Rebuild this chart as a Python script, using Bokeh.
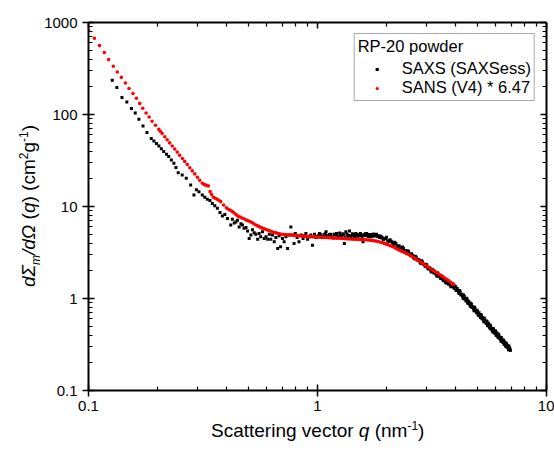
from bokeh.plotting import figure
from bokeh.layouts import row, column
from bokeh.models import (LogAxis, FixedTicker, Legend, LegendItem, Div,
                          CustomJSTickFormatter, Range1d)
from bokeh.embed import file_html
from bokeh.resources import INLINE

FONT = "Liberation Sans"

# ---------------- data: SANS (V4) * 6.47 ----------------
sans_q_1 = [0.1000, 0.1062, 0.1117, 0.1172, 0.1224, 0.1283, 0.1336, 0.1391, 0.1449, 0.1503,
            0.1564, 0.1619, 0.1674, 0.1725, 0.1784, 0.1839, 0.1895, 0.1961, 0.2028, 0.2063,
            0.2097, 0.2154]
sans_i_1 = [818, 674, 561, 471, 395, 334, 290, 253, 220, 192,
            169, 150, 132, 117, 104, 93.8, 84.4, 76.4, 68.9, 65.3,
            62.1, 57.2]
sans_q_2 = [0.2205, 0.226, 0.232, 0.238, 0.244, 0.250, 0.257, 0.263, 0.270, 0.277,
            0.284, 0.291, 0.299, 0.306, 0.314, 0.320, 0.325, 0.330, 0.334, 0.3395,
            0.345, 0.351, 0.358, 0.365, 0.371, 0.378, 0.389]
sans_i_2 = [53.2, 49.2, 45.5, 42.1, 39.0, 36.0, 33.2, 30.9, 28.6, 26.4,
            24.4, 22.6, 20.8, 19.3, 17.9, 17.3, 17.1, 16.9, 16.7, 14.5,
            13.5, 12.6, 12.3, 12.0, 11.6, 11.3, 10.4]
sans_q_3 = [0.400, 0.408, 0.416, 0.425, 0.433, 0.441, 0.450, 0.459, 0.468, 0.477,
            0.487, 0.497, 0.507, 0.517, 0.527, 0.538, 0.548, 0.559, 0.570, 0.582,
            0.593, 0.605, 0.617, 0.630, 0.642, 0.655, 0.668, 0.682, 0.695, 0.709,
            0.723, 0.738, 0.753, 0.768, 0.783, 0.799, 0.815, 0.831, 0.848, 0.865,
            0.882, 0.900, 0.918, 0.936, 0.955, 0.974, 0.993]
sans_i_3 = [9.7, 9.35, 9.1, 8.8, 8.5, 8.15, 7.85, 7.7, 7.5, 7.35,
            7.15, 7.0, 6.85, 6.7, 6.5, 6.3, 6.15, 6.0, 5.85, 5.75,
            5.65, 5.55, 5.45, 5.35, 5.25, 5.2, 5.12, 5.05, 5.0, 4.97,
            4.95, 4.93, 4.91, 4.9, 4.88, 4.85, 4.83, 4.8, 4.78, 4.76,
            4.74, 4.72, 4.70, 4.69, 4.68, 4.67, 4.66]
sans_q_4 = [1.013, 1.033, 1.054, 1.075, 1.096, 1.118, 1.141, 1.163, 1.187, 1.210,
            1.235, 1.259, 1.284, 1.310, 1.336, 1.363, 1.390, 1.418, 1.446, 1.475,
            1.505, 1.535, 1.566, 1.597, 1.629, 1.661, 1.695, 1.728, 1.763, 1.798,
            1.834, 1.871, 1.909, 1.947, 1.986, 2.025, 2.066, 2.107, 2.149, 2.192,
            2.236, 2.281, 2.326, 2.373, 2.420, 2.468, 2.518, 2.568, 2.620, 2.672,
            2.725, 2.780, 2.836, 2.892, 2.950, 3.009, 3.069, 3.131, 3.193, 3.257,
            3.322, 3.389, 3.457, 3.526, 3.596, 3.668, 3.741, 3.816, 3.892, 3.930]
sans_i_4 = [4.65, 4.64, 4.63, 4.62, 4.61, 4.59, 4.58, 4.56, 4.55, 4.53,
            4.52, 4.51, 4.50, 4.48, 4.47, 4.45, 4.44, 4.42, 4.41, 4.40,
            4.39, 4.38, 4.37, 4.36, 4.35, 4.33, 4.30, 4.28, 4.25, 4.22,
            4.17, 4.12, 4.06, 3.99, 3.92, 3.85, 3.78, 3.71, 3.63, 3.52,
            3.44, 3.35, 3.27, 3.20, 3.13, 3.05, 2.98, 2.89, 2.81, 2.71,
            2.62, 2.55, 2.47, 2.39, 2.31, 2.24, 2.17, 2.10, 2.03, 1.97,
            1.91, 1.85, 1.79, 1.73, 1.67, 1.62, 1.56, 1.50, 1.45, 1.43]

# ---------------- data: SAXS (SAXSess) ----------------
saxs_q_1 = [0.127, 0.133, 0.140, 0.147, 0.154, 0.160, 0.166, 0.173, 0.180, 0.188,
            0.193, 0.198, 0.203, 0.208, 0.213, 0.219, 0.224, 0.230, 0.236, 0.241,
            0.2465, 0.2566, 0.2673, 0.2793, 0.2887, 0.296, 0.3037, 0.314, 0.322, 0.3303,
            0.339, 0.3474, 0.356, 0.3654, 0.375, 0.3843, 0.394, 0.4043]
saxs_i_1 = [235, 196, 153, 137, 116, 104, 89, 75, 63.8, 55,
            51.5, 48.5, 45.5, 42.5, 39.5, 37.0, 34.9, 32.0, 29.6, 26.5,
            23.3, 22.0, 20.3, 17.1, 13.3, 15.2, 14.5, 13.3, 12.6, 12.0,
            11.6, 10.8, 10.2, 9.55, 8.6, 7.9, 8.2, 7.4]
saxs_q_2 = [0.418, 0.425, 0.433, 0.44, 0.447, 0.455, 0.463, 0.470, 0.478, 0.487,
            0.495, 0.503, 0.512, 0.520, 0.529, 0.538, 0.548, 0.556, 0.565, 0.575,
            0.585, 0.596, 0.606, 0.616, 0.625, 0.636, 0.647, 0.658, 0.67, 0.68,
            0.69, 0.703, 0.715, 0.728, 0.74, 0.752, 0.765, 0.78, 0.79, 0.80,
            0.815, 0.83, 0.85, 0.865, 0.88, 0.89, 0.905, 0.92, 0.935, 0.95,
            0.97, 0.985]
saxs_i_2 = [6.3, 7.25, 6.6, 6.8, 7.1, 6.0, 6.5, 6.3, 5.8, 5.9,
            5.4, 4.5, 4.9, 5.6, 5.2, 5.0, 4.4, 5.1, 4.7, 5.3,
            4.5, 4.69, 4.4, 5.0, 4.4, 4.9, 4.13, 4.6, 3.5, 4.8,
            3.65, 4.5, 4.13, 4.7, 3.5, 4.9, 6.0, 4.89, 3.97, 5.1,
            4.6, 4.13, 4.89, 4.5, 4.8, 5.1, 4.4, 4.69, 4.9, 3.80,
            5.0, 4.6]
saxs_q_3 = [1.00, 1.02, 1.05, 1.07, 1.09, 1.12, 1.14, 1.17, 1.19, 1.21,
            1.24, 1.26, 1.29, 1.31, 1.33, 1.36, 1.38, 1.41, 1.43, 1.45,
            1.47, 1.50, 1.53, 1.55, 1.58, 1.60, 1.62, 1.64, 1.67, 1.69,
            1.71, 1.74, 1.76, 1.79, 1.81, 1.84, 1.87, 1.89, 1.91, 1.94,
            1.97]
saxs_i_3 = [4.7, 5.1, 4.6, 4.9, 5.3, 4.75, 5.0, 4.55, 4.95, 5.1,
            4.7, 4.85, 5.05, 3.97, 5.3, 4.7, 5.4, 4.8, 4.9, 4.6,
            5.1, 4.75, 5.0, 4.85, 4.15, 4.9, 5.05, 5.1, 4.7, 4.95,
            4.9, 4.75, 5.0, 4.8, 5.0, 4.7, 4.6, 4.75, 4.55, 4.35,
            4.5]
saxs_q_3b = [1.01, 1.035, 1.06, 1.08, 1.105, 1.13, 1.155, 1.18, 1.20, 1.225,
             1.25, 1.275, 1.30, 1.32, 1.345, 1.37, 1.395, 1.42, 1.44, 1.46,
             1.485, 1.515, 1.54, 1.565, 1.59, 1.61, 1.63, 1.655, 1.68, 1.70,
             1.725, 1.75, 1.775, 1.80, 1.825, 1.855, 1.88, 1.90, 1.925, 1.955,
             1.985]
saxs_i_3b = [4.85, 4.95, 4.7, 5.05, 4.8, 4.95, 4.65, 5.0, 4.9, 4.75,
             5.15, 4.8, 4.95, 4.6, 5.0, 4.85, 4.7, 5.05, 4.9, 4.75,
             4.95, 4.8, 5.1, 4.7, 4.9, 5.0, 4.8, 4.95, 4.85, 4.7,
             4.9, 5.0, 4.8, 4.85, 4.75, 4.8, 4.7, 4.65, 4.55, 4.5,
             4.45]
saxs_q_4 = [2.000, 2.025, 2.050, 2.075, 2.100, 2.125, 2.150, 2.175, 2.200, 2.225,
            2.250, 2.275, 2.300, 2.325, 2.350, 2.375, 2.400, 2.425, 2.450, 2.475,
            2.500, 2.525, 2.550, 2.575, 2.600, 2.625, 2.650, 2.675, 2.700, 2.725,
            2.750, 2.775, 2.800, 2.825, 2.850, 2.875, 2.900, 2.925, 2.950, 2.975,
            3.000, 3.025, 3.050, 3.075, 3.100, 3.125, 3.150, 3.175, 3.200, 3.225,
            3.250, 3.275, 3.300, 3.325, 3.350, 3.375, 3.400, 3.425, 3.450, 3.475,
            3.500, 3.525, 3.550, 3.575, 3.600, 3.625, 3.650, 3.675, 3.700, 3.725,
            3.750, 3.775, 3.800, 3.825, 3.850, 3.875, 3.900, 3.925, 3.950, 3.975,
            4.000]
saxs_i_4 = [4.63, 4.24, 4.17, 4.35, 4.19, 4.03, 3.84, 4.08, 3.97, 3.67,
            3.72, 3.73, 3.53, 3.39, 3.64, 3.51, 3.32, 3.29, 3.13, 3.30,
            3.24, 3.01, 2.93, 3.06, 2.95, 2.78, 2.71, 2.88, 2.80, 2.62,
            2.63, 2.63, 2.49, 2.40, 2.58, 2.49, 2.36, 2.34, 2.23, 2.35,
            2.31, 2.14, 2.09, 2.17, 2.10, 1.99, 1.94, 2.07, 2.02, 1.89,
            1.90, 1.91, 1.81, 1.75, 1.89, 1.82, 1.73, 1.72, 1.65, 1.75,
            1.73, 1.60, 1.56, 1.64, 1.59, 1.50, 1.47, 1.57, 1.53, 1.44,
            1.45, 1.46, 1.39, 1.34, 1.46, 1.41, 1.35, 1.34, 1.29, 1.36,
            1.35]
saxs_q_5 = [4.05, 4.10, 4.15, 4.20, 4.25, 4.30, 4.35, 4.40, 4.45, 4.50,
            4.55, 4.60, 4.65, 4.70, 4.75, 4.80, 4.85, 4.90, 4.95, 5.00,
            5.05, 5.10, 5.15, 5.20, 5.25, 5.30, 5.35, 5.40, 5.45, 5.50,
            5.55, 5.60, 5.65, 5.70, 5.75, 5.80, 5.85, 5.90, 5.95, 6.00,
            6.05, 6.10, 6.15, 6.20, 6.25, 6.30, 6.35, 6.40, 6.45, 6.50,
            6.55, 6.60, 6.65, 6.70, 6.75, 6.80, 6.85, 6.90, 6.95]
saxs_i_5 = [1.22, 1.23, 1.13, 1.17, 1.105, 1.05, 1.09, 0.99, 0.94, 0.983,
            0.888, 0.894, 0.826, 0.860, 0.81, 0.771, 0.803, 0.735, 0.698, 0.728,
            0.663, 0.672, 0.621, 0.649, 0.613, 0.585, 0.609, 0.559, 0.534, 0.558,
            0.507, 0.515, 0.477, 0.50, 0.472, 0.451, 0.473, 0.436, 0.417, 0.437,
            0.399, 0.406, 0.377, 0.397, 0.376, 0.36, 0.376, 0.347, 0.332, 0.348,
            0.317, 0.323, 0.301, 0.316, 0.301, 0.289, 0.305, 0.282, 0.272]
saxs_q_6 = [4.025, 4.075, 4.125, 4.175, 4.225, 4.275, 4.325, 4.375, 4.425, 4.475,
            4.525, 4.575, 4.625, 4.675, 4.725, 4.775, 4.825, 4.875, 4.925, 4.975,
            5.025, 5.075, 5.125, 5.175, 5.225, 5.275, 5.325, 5.375, 5.425, 5.475,
            5.525, 5.575, 5.625, 5.675, 5.725, 5.775, 5.825, 5.875, 5.925, 5.975,
            6.025, 6.075, 6.125, 6.175, 6.225, 6.275, 6.325, 6.375, 6.425, 6.475,
            6.525, 6.575, 6.625, 6.675, 6.725, 6.775, 6.825, 6.875, 6.925]
saxs_i_6 = [1.23, 1.29, 1.18, 1.22, 1.09, 1.11, 1.00, 1.05, 0.985, 1.005,
            0.893, 0.936, 0.855, 0.889, 0.797, 0.814, 0.737, 0.776, 0.731, 0.746,
            0.663, 0.701, 0.643, 0.670, 0.602, 0.617, 0.559, 0.589, 0.558, 0.571,
            0.509, 0.537, 0.493, 0.516, 0.464, 0.475, 0.432, 0.458, 0.435, 0.446,
            0.398, 0.422, 0.389, 0.408, 0.369, 0.378, 0.344, 0.365, 0.346, 0.355,
            0.318, 0.336, 0.311, 0.326, 0.295, 0.304, 0.277, 0.296, 0.282]

sans_q = sans_q_1 + sans_q_2 + sans_q_3 + sans_q_4
sans_i = sans_i_1 + sans_i_2 + sans_i_3 + sans_i_4
saxs_q = saxs_q_1 + saxs_q_2 + saxs_q_3 + saxs_q_3b + saxs_q_4 + saxs_q_5 + saxs_q_6
saxs_i = saxs_i_1 + saxs_i_2 + saxs_i_3 + saxs_i_3b + saxs_i_4 + saxs_i_5 + saxs_i_6

x_major = [0.1, 1, 10]
y_major = [0.1, 1, 10, 100, 1000]
legend_title = "RP-20 powder"
saxs_label = "SAXS (SAXSess)"
sans_label = "SANS (V4) * 6.47"


def minors(majors):
    out = []
    for m in majors[:-1]:
        out += [m * k for k in range(2, 10)]
    return out


x_ticker = FixedTicker(ticks=x_major, minor_ticks=minors(x_major))
y_ticker = FixedTicker(ticks=y_major, minor_ticks=minors(y_major))

# ---------------- figure ----------------
p = figure(width=514, height=420, x_axis_type="log", y_axis_type="log",
           x_range=Range1d(0.1, 10), y_range=Range1d(0.1, 1000),
           output_backend="svg", toolbar_location=None,
           min_border_left=48, min_border_right=8, min_border_top=22, min_border_bottom=30,
           background_fill_color="white", border_fill_color="white")
p.grid.visible = False
p.outline_line_color = None

fmt = CustomJSTickFormatter(code="return String(Number(tick.toPrecision(6)));")
p.xaxis[0].ticker = x_ticker
p.yaxis[0].ticker = y_ticker
for ax in (p.xaxis[0], p.yaxis[0]):
    ax.formatter = fmt
    ax.axis_line_width = 2
    ax.axis_line_color = "black"
    ax.major_tick_line_width = 1.5
    ax.minor_tick_line_width = 1.2
    ax.major_tick_in = 6
    ax.major_tick_out = 6
    ax.minor_tick_in = 4
    ax.minor_tick_out = 0
    ax.major_label_text_font = FONT
    ax.major_label_text_font_size = "15px"
    ax.major_label_text_color = "black"
p.yaxis[0].major_label_standoff = 5
p.xaxis[0].major_label_standoff = 4

for loc, tk in (("above", x_ticker), ("right", y_ticker)):
    ax = LogAxis(ticker=tk,
                 formatter=CustomJSTickFormatter(code="return '';"),
                 axis_line_width=2, axis_line_color="black",
                 major_tick_line_width=1.5, minor_tick_line_width=1.2,
                 major_tick_in=6, major_tick_out=0, minor_tick_in=4, minor_tick_out=0,
                 major_label_text_font_size="1px", major_label_standoff=0)
    p.add_layout(ax, loc)

r_saxs = p.scatter(saxs_q, saxs_i, marker="square", size=3,
                   fill_color="black", line_color=None)
r_sans = p.scatter(sans_q, sans_i, marker="circle", size=3.6,
                   fill_color="#ff0000", line_color=None)

legend = Legend(items=[LegendItem(label=saxs_label, renderers=[r_saxs]),
                       LegendItem(label=sans_label, renderers=[r_sans])],
                title=legend_title, location="top_right",
                title_text_font=FONT, title_text_font_size="16.5px",
                title_text_font_style="normal", title_text_color="black",
                title_standoff=3,
                label_text_font=FONT, label_text_font_size="16.5px",
                label_text_color="black",
                border_line_color="#555555", border_line_width=1,
                background_fill_color="white", background_fill_alpha=1,
                padding=3, margin=11, spacing=0,
                glyph_width=38, glyph_height=8, label_height=18,
                label_standoff=6)
p.add_layout(legend)

# ---------------- axis titles (rich text: italics, sub/superscripts) ----------------
BASE = ("font-family:'Liberation Sans',Arial,sans-serif;font-size:19px;"
        "line-height:19px;white-space:nowrap;color:#000;")
SMALL = "font-size:12px;line-height:0;"

x_title_html = (f"<div style=\"{BASE}padding-left:211px;padding-top:1px;\">"
                f"Scattering vector <i>q</i> (nm<sup style=\"{SMALL}\">-1</sup>)</div>")
y_title_html = (f"<div style=\"{BASE}width:max-content;transform-origin:0 0;"
                f"transform:translate(19px,287px) rotate(-90deg);\">"
                f"<i>d\u03a3<sub style=\"{SMALL}\">m</sub>/d\u03a9</i> (<i>q</i>) "
                f"(cm<sup style=\"{SMALL}\">2</sup>g<sup style=\"{SMALL}\">-1</sup>)</div>")

y_div = Div(text=y_title_html, width=40, height=420, margin=0)
x_div = Div(text=x_title_html, width=554, height=30, margin=0)

layout = column(row(y_div, p, spacing=0), x_div, spacing=0)

open("out.html", "w").write(file_html(layout, INLINE))
